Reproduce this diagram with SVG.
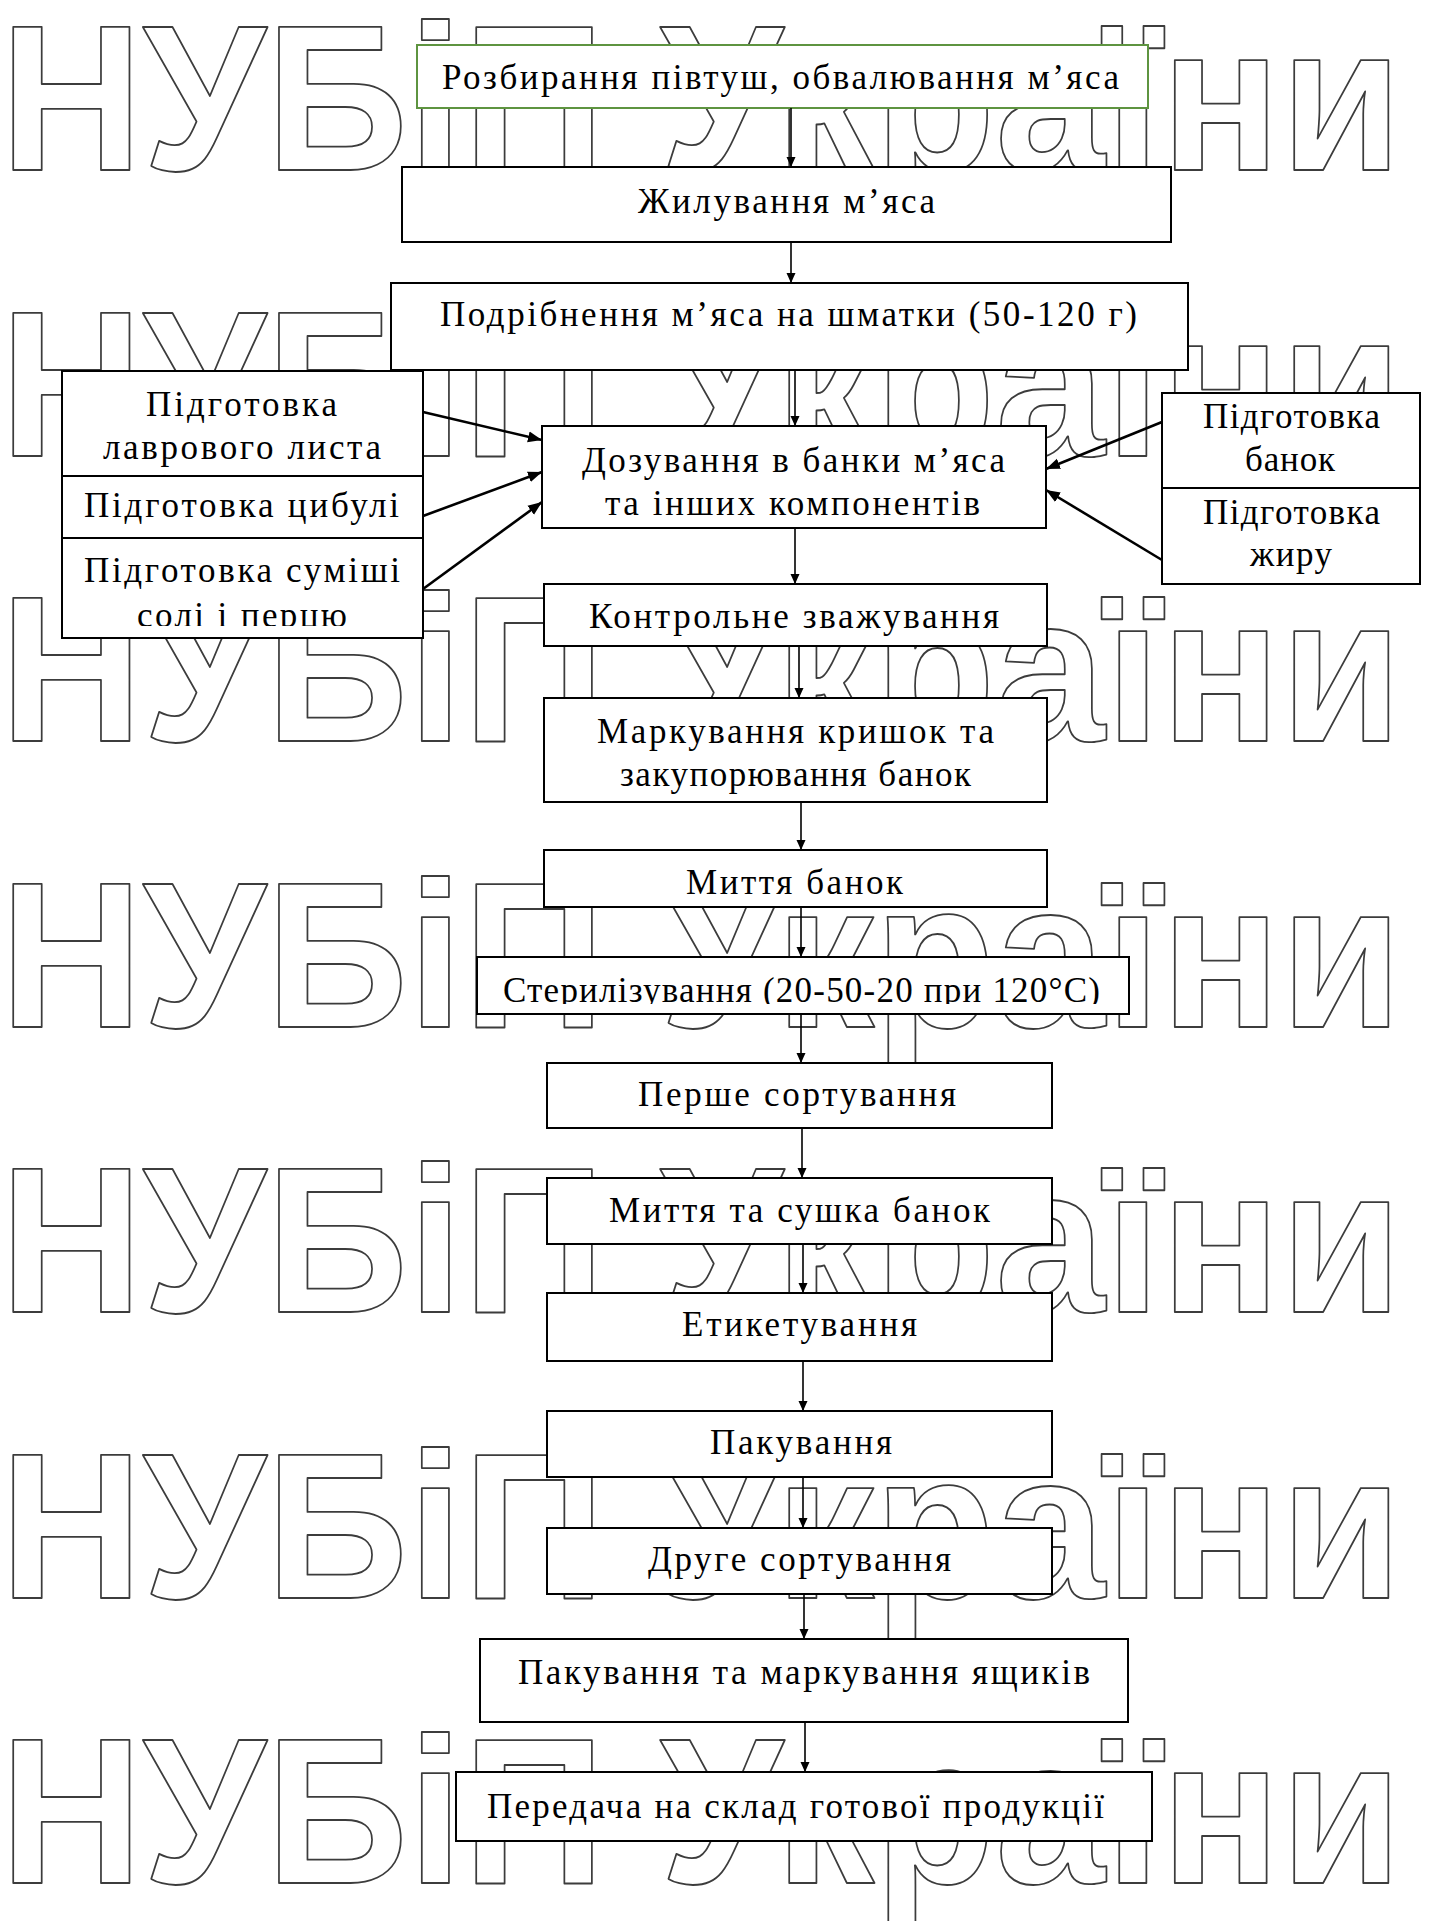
<svg xmlns="http://www.w3.org/2000/svg" width="1430" height="1921" viewBox="0 0 1430 1921">
<style>
.wm{font-family:"Liberation Sans",Arial,sans-serif;font-weight:bold;font-size:207px;fill:#fff;stroke:#3c3c3c;stroke-width:1.8;stroke-linejoin:round}
.box{fill:#fff;stroke:#000;stroke-width:2}
.gbox{fill:#fff;stroke:#5e9440;stroke-width:2}
.lbl{font-family:"Liberation Serif","Times New Roman",serif;font-size:35px;fill:#000}
.conn{stroke:#000;stroke-width:1.6;fill:none}
.diag{stroke:#000;stroke-width:2.6;fill:none}
</style>
<defs>
<marker id="ah" markerUnits="userSpaceOnUse" markerWidth="10" markerHeight="10" refX="10" refY="5" orient="auto"><path d="M0,0.5 L10,5 L0,9.5 z" fill="#000"/></marker>
<marker id="ahb" markerUnits="userSpaceOnUse" markerWidth="14" markerHeight="12" refX="14" refY="6" orient="auto"><path d="M0,0.5 L14,6 L0,11.5 z" fill="#000"/></marker>
<clipPath id="clipSalt"><rect x="62" y="538" width="361" height="88"/></clipPath>
<clipPath id="clipSter"><rect x="477" y="957" width="652" height="47"/></clipPath>
</defs>
<rect width="1430" height="1921" fill="#fff"/>
<g id="watermark">
<text class="wm" x="0" y="170" textLength="1402" lengthAdjust="spacingAndGlyphs">НУБіП України</text>
<text class="wm" x="0" y="455.5" textLength="1402" lengthAdjust="spacingAndGlyphs">НУБіП України</text>
<text class="wm" x="0" y="741" textLength="1402" lengthAdjust="spacingAndGlyphs">НУБіП України</text>
<text class="wm" x="0" y="1026.5" textLength="1402" lengthAdjust="spacingAndGlyphs">НУБіП України</text>
<text class="wm" x="0" y="1312" textLength="1402" lengthAdjust="spacingAndGlyphs">НУБіП України</text>
<text class="wm" x="0" y="1597.5" textLength="1402" lengthAdjust="spacingAndGlyphs">НУБіП України</text>
<text class="wm" x="0" y="1883" textLength="1402" lengthAdjust="spacingAndGlyphs">НУБіП України</text>
</g>
<g id="n1"><rect class="gbox" x="417" y="45" width="731" height="63"/><text class="lbl" x="442" y="89" textLength="677">Розбирання півтуш, обвалювання м’яса</text></g>
<g id="n2"><rect class="box" x="402" y="167" width="769" height="75"/><text class="lbl" x="638" y="213" textLength="297">Жилування м’яса</text></g>
<g id="n3"><rect class="box" x="391" y="283" width="797" height="87"/><text class="lbl" x="440" y="326" textLength="697">Подрібнення м’яса на шматки (50-120 г)</text></g>
<g id="n4"><rect class="box" x="62" y="371" width="361" height="105"/><text class="lbl" x="146" y="416" textLength="191">Підготовка</text><text class="lbl" x="103" y="459" textLength="278">лаврового листа</text></g>
<g id="n5"><rect class="box" x="62" y="476" width="361" height="62"/><text class="lbl" x="84" y="517" textLength="315">Підготовка цибулі</text></g>
<g id="n6"><rect class="box" x="62" y="538" width="361" height="100"/><text class="lbl" x="84" y="582" textLength="316">Підготовка суміші</text><text class="lbl" x="137" y="627" textLength="210" clip-path="url(#clipSalt)">солі і перцю</text></g>
<g id="n7"><rect class="box" x="542" y="426" width="504" height="102"/><text class="lbl" x="582" y="472" textLength="423">Дозування в банки м’яса</text><text class="lbl" x="605" y="515" textLength="375">та інших компонентів</text></g>
<g id="n8"><rect class="box" x="1162" y="393" width="258" height="95"/><text class="lbl" x="1203" y="428" textLength="177">Підготовка</text><text class="lbl" x="1245" y="471" textLength="90">банок</text></g>
<g id="n9"><rect class="box" x="1162" y="488" width="258" height="96"/><text class="lbl" x="1203" y="524" textLength="177">Підготовка</text><text class="lbl" x="1250" y="566" textLength="82">жиру</text></g>
<g id="n10"><rect class="box" x="544" y="584" width="503" height="62"/><text class="lbl" x="589" y="628" textLength="410">Контрольне зважування</text></g>
<g id="n11"><rect class="box" x="544" y="698" width="503" height="104"/><text class="lbl" x="597" y="743" textLength="397">Маркування кришок та</text><text class="lbl" x="620" y="786" textLength="351">закупорювання банок</text></g>
<g id="n12"><rect class="box" x="544" y="850" width="503" height="57"/><text class="lbl" x="686" y="894" textLength="217">Миття банок</text></g>
<g id="n13"><rect class="box" x="477" y="957" width="652" height="57"/><text class="lbl" x="503" y="1002" textLength="597" clip-path="url(#clipSter)">Стерилізування (20-50-20 при 120°C)</text></g>
<g id="n14"><rect class="box" x="547" y="1063" width="505" height="65"/><text class="lbl" x="638" y="1106" textLength="318">Перше сортування</text></g>
<g id="n15"><rect class="box" x="547" y="1178" width="505" height="66"/><text class="lbl" x="609" y="1222" textLength="381">Миття та сушка банок</text></g>
<g id="n16"><rect class="box" x="547" y="1293" width="505" height="68"/><text class="lbl" x="682" y="1336" textLength="235">Етикетування</text></g>
<g id="n17"><rect class="box" x="547" y="1411" width="505" height="66"/><text class="lbl" x="710" y="1454" textLength="182">Пакування</text></g>
<g id="n18"><rect class="box" x="547" y="1528" width="505" height="66"/><text class="lbl" x="648" y="1571" textLength="303">Друге сортування</text></g>
<g id="n19"><rect class="box" x="480" y="1639" width="648" height="83"/><text class="lbl" x="518" y="1684" textLength="572">Пакування та маркування ящиків</text></g>
<g id="n20"><rect class="box" x="456" y="1772" width="696" height="69"/><text class="lbl" x="487" y="1818" textLength="617">Передача на склад готової продукції</text></g>
<g id="connectors">
<line class="conn" x1="791" y1="108" x2="791" y2="167" marker-end="url(#ah)"/>
<line class="conn" x1="791" y1="242" x2="791" y2="283" marker-end="url(#ah)"/>
<line class="conn" x1="795" y1="370" x2="795" y2="426" marker-end="url(#ah)"/>
<line class="conn" x1="795" y1="528" x2="795" y2="584" marker-end="url(#ah)"/>
<line class="conn" x1="799" y1="646" x2="799" y2="698" marker-end="url(#ah)"/>
<line class="conn" x1="801" y1="802" x2="801" y2="850" marker-end="url(#ah)"/>
<line class="conn" x1="801" y1="907" x2="801" y2="957" marker-end="url(#ah)"/>
<line class="conn" x1="801" y1="1014" x2="801" y2="1063" marker-end="url(#ah)"/>
<line class="conn" x1="802" y1="1128" x2="802" y2="1178" marker-end="url(#ah)"/>
<line class="conn" x1="803" y1="1244" x2="803" y2="1293" marker-end="url(#ah)"/>
<line class="conn" x1="803" y1="1361" x2="803" y2="1411" marker-end="url(#ah)"/>
<line class="conn" x1="803" y1="1477" x2="803" y2="1528" marker-end="url(#ah)"/>
<line class="conn" x1="804" y1="1594" x2="804" y2="1639" marker-end="url(#ah)"/>
<line class="conn" x1="805" y1="1722" x2="805" y2="1772" marker-end="url(#ah)"/>
<line class="diag" x1="423" y1="412" x2="542" y2="440" marker-end="url(#ahb)"/>
<line class="diag" x1="423" y1="516" x2="542" y2="472" marker-end="url(#ahb)"/>
<line class="diag" x1="423" y1="589" x2="542" y2="502" marker-end="url(#ahb)"/>
<line class="diag" x1="1162" y1="422" x2="1046" y2="469" marker-end="url(#ahb)"/>
<line class="diag" x1="1162" y1="560" x2="1046" y2="490" marker-end="url(#ahb)"/>
</g>
</svg>
